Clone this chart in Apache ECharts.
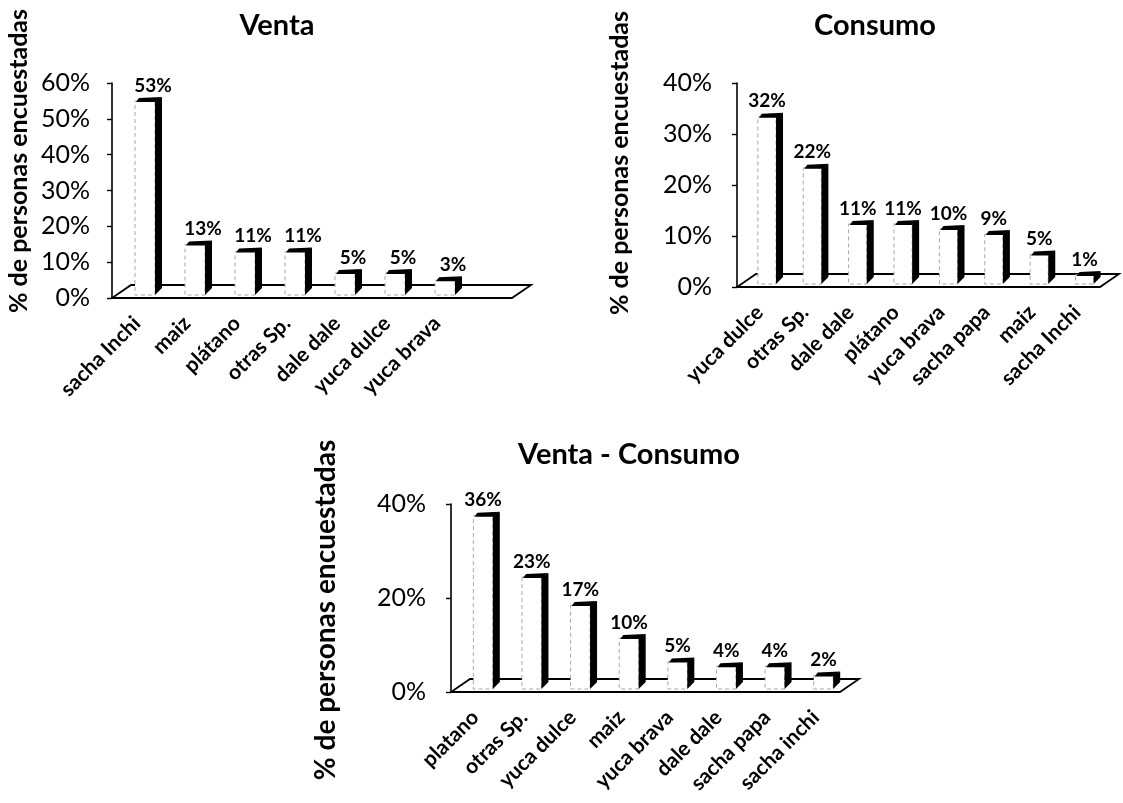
<!DOCTYPE html>
<html>
<head>
<meta charset="utf-8">
<script src="https://cdn.jsdelivr.net/npm/echarts@6/dist/echarts.min.js"></script>
<style>
  html, body { margin: 0; padding: 0; background: #fff; }
  #chart { width: 1123px; height: 803px; }
</style>
</head>
<body>
<div id="chart"></div>
<script>
// ---- data ----
const ventaCategories = ['sacha Inchi', 'maiz', 'plátano', 'otras Sp.', 'dale dale', 'yuca dulce', 'yuca brava', ''];
const ventaValues = [53, 13, 11, 11, 5, 5, 3, null];

const consumoCategories = ['yuca dulce', 'otras Sp.', 'dale dale', 'plátano', 'yuca brava', 'sacha papa', 'maiz', 'sacha Inchi'];
const consumoValues = [32, 22, 11, 11, 10, 9, 5, 1];

const ventaConsumoCategories = ['platano', 'otras Sp.', 'yuca dulce', 'maiz', 'yuca brava', 'dale dale', 'sacha papa', 'sacha inchi'];
const ventaConsumoValues = [36, 23, 17, 10, 5, 4, 4, 2];

const chartTitles = ['Venta', 'Consumo', 'Venta - Consumo'];
const yAxisTitle = '% de personas encuestadas';

// ---- drawing helpers ----
const FONT = 'Lato, "Open Sans", sans-serif';
const DEPTH_X = 19, DEPTH_Y = -13;

// floor of the pseudo-3D plot area, spanning the whole grid
function renderFloor(params, api) {
  const cs = params.coordSys;
  const yb = cs.y + cs.height;
  return {
    type: 'polygon',
    shape: { points: [[cs.x, yb], [cs.x + cs.width, yb], [cs.x + cs.width + DEPTH_X, yb + DEPTH_Y], [cs.x + DEPTH_X, yb + DEPTH_Y]] },
    style: { fill: '#fff', stroke: '#000', lineWidth: 1.8 }
  };
}

// a column with a white front face, black right side and dark top edge
function makeBarRenderer(labelShift) {
  return function (params, api) {
    const v = api.value(1);
    if (v == null || isNaN(v)) return null;
    const ci = api.value(0);
    const base = api.coord([ci, 0]);
    const top = api.coord([ci, v]);
    const band = api.size([1, 0])[0];
    const w = band * 0.4;
    const cx = base[0] + band * 0.16;
    const x0 = cx - w / 2, x1 = cx + w / 2;
    const yb = base[1] - 3;
    const yt = top[1] - 7;
    const d = 7, s = 4;
    return {
      type: 'group',
      children: [
        { type: 'rect', shape: { x: x0, y: yt, width: w, height: yb - yt },
          style: { fill: '#fff', stroke: '#a8a8a8', lineWidth: 1, lineDash: [4, 3] } },
        { type: 'polygon', shape: { points: [[x1, yt], [x1 + d, yt - s], [x1 + d, yb - s - 3], [x1, yb]] },
          style: { fill: '#000' } },
        { type: 'polygon', shape: { points: [[x0 + 1, yt + 1], [x1, yt + 1], [x1 + d, yt - s], [x0 + 4, yt - s + 1]] },
          style: { fill: '#000' } },
        { type: 'text', x: cx + labelShift, y: yt - s - 2,
          style: { text: v + '%', fill: '#000', font: 'bold 19px ' + FONT, align: 'center', verticalAlign: 'bottom' } }
      ]
    };
  };
}

function toPairs(values) {
  return values.map((v, i) => [i, v]);
}

const grids = [
  { left: 112, top: 83, width: 400, height: 215 },
  { left: 737, top: 83, width: 363, height: 204 },
  { left: 451, top: 504, width: 389, height: 188 }
];
const categories = [ventaCategories, consumoCategories, ventaConsumoCategories];
const values = [ventaValues, consumoValues, ventaConsumoValues];
const yMax = [60, 40, 40];
const yStep = [10, 10, 20];
const yLabelMargin = [22, 25, 25];
const labelShifts = [8, 0, 0];

const option = {
  backgroundColor: '#fff',
  animation: false,
  title: [
    { text: chartTitles[0], left: 277, top: 11 },
    { text: chartTitles[1], left: 875, top: 11 },
    { text: chartTitles[2], left: 629, top: 440 }
  ].map(t => Object.assign(t, { textAlign: 'center', padding: 0,
    textStyle: { fontFamily: FONT, fontSize: 29, fontWeight: 'bold', color: '#000' } })),
  grid: grids,
  xAxis: grids.map((g, i) => ({
    type: 'category',
    gridIndex: i,
    data: categories[i],
    axisLine: { show: false },
    axisTick: { show: false },
    axisLabel: { interval: 0, rotate: 45, margin: 22, color: '#000', fontFamily: FONT, fontWeight: 'bold', fontSize: 21 }
  })),
  yAxis: grids.map((g, i) => ({
    type: 'value',
    gridIndex: i,
    min: 0,
    max: yMax[i],
    interval: yStep[i],
    splitLine: { show: false },
    axisLine: { show: true, lineStyle: { color: '#000', width: 1.6 } },
    axisTick: { show: true, inside: false, length: 5, lineStyle: { color: '#000', width: 1.4 } },
    axisLabel: { margin: yLabelMargin[i], formatter: '{value}%', color: '#000', fontFamily: FONT, fontSize: 25 }
  })),
  graphic: [
    { type: 'text', x: 19, y: 161, rotation: Math.PI / 2,
      style: { text: yAxisTitle, font: 'bold 25px ' + FONT, fill: '#000', align: 'center', verticalAlign: 'middle' } },
    { type: 'text', x: 620, y: 163, rotation: Math.PI / 2,
      style: { text: yAxisTitle, font: 'bold 25px ' + FONT, fill: '#000', align: 'center', verticalAlign: 'middle' } },
    { type: 'text', x: 326, y: 610, rotation: Math.PI / 2,
      style: { text: yAxisTitle, font: 'bold 28px ' + FONT, fill: '#000', align: 'center', verticalAlign: 'middle' } }
  ],
  series: []
};

for (let i = 0; i < 3; i++) {
  option.series.push({
    type: 'custom', xAxisIndex: i, yAxisIndex: i, z: 1, silent: true,
    renderItem: renderFloor, data: [[0, 0]]
  });
  option.series.push({
    type: 'custom', xAxisIndex: i, yAxisIndex: i, z: 2,
    renderItem: makeBarRenderer(labelShifts[i]),
    encode: { x: 0, y: 1 },
    data: toPairs(values[i])
  });
}

const chart = echarts.init(document.getElementById('chart'), null, { renderer: 'canvas' });
chart.setOption(option);
</script>
</body>
</html>
